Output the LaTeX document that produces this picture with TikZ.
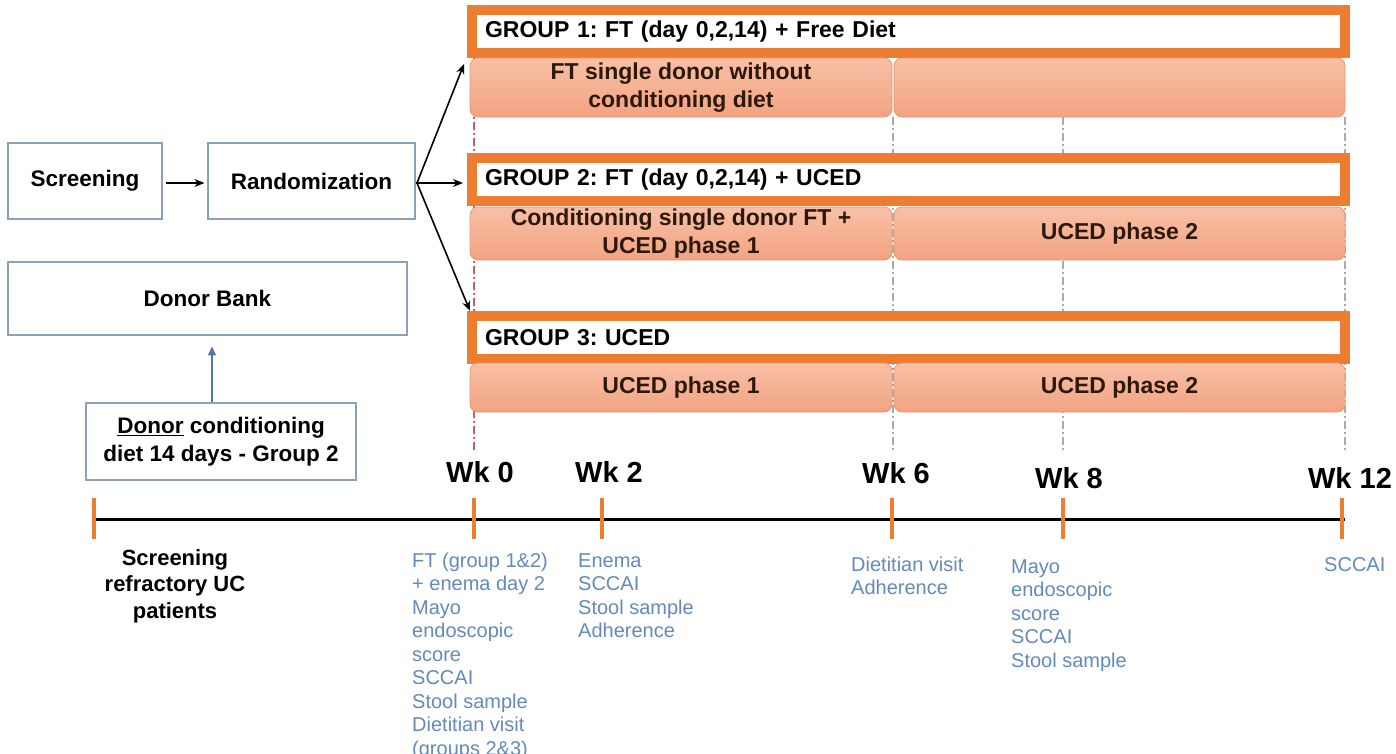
\documentclass[tikz,border=0pt]{standalone}
\usepackage{fontspec}
\setmainfont{Liberation Sans}
\usetikzlibrary{arrows.meta}
\definecolor{org}{RGB}{237,125,49}
\definecolor{salmonT}{RGB}{248,192,166}
\definecolor{salmonB}{RGB}{242,163,130}
\definecolor{salmonD}{RGB}{232,152,118}
\definecolor{bluetxt}{RGB}{100,138,185}
\definecolor{boxline}{RGB}{140,160,185}
\definecolor{steel}{RGB}{80,120,168}
\definecolor{darktxt}{RGB}{45,25,12}
\definecolor{pinkdash}{RGB}{205,90,110}
\definecolor{graydash}{RGB}{170,170,170}
\frenchspacing
\newcommand{\linesL}[1]{\begin{tabular}[t]{@{}l@{}}#1\end{tabular}}
\newcommand{\linesC}[1]{\begin{tabular}[t]{@{}c@{}}#1\end{tabular}}
\begin{document}
\begin{tikzpicture}[x=1pt,y=-1pt,
 lbox/.style={draw=boxline, line width=1.1pt, fill=white, font=\fontsize{22.5}{28}\selectfont\bfseries, align=center, inner sep=0pt},
 ghead/.style={draw=org, line width=10pt, fill=white, minimum height=43pt, text width=847pt, inner xsep=13pt, inner ysep=0pt, align=left, font=\fontsize{23}{27}\selectfont\bfseries},
 phase/.style={draw=salmonD, line width=0.8pt, rounded corners=8pt, top color=salmonT, bottom color=salmonB, font=\fontsize{23}{27.5}\selectfont\bfseries, text=darktxt, align=center, inner sep=0pt},
 arr/.style={-{Stealth[length=10pt,width=8pt]}, line width=1.6pt, black},
 tickmark/.style={draw=org, line width=4pt},
 wk/.style={font=\fontsize{29}{33}\selectfont\bfseries, anchor=base, inner sep=0pt},
 note/.style={font=\fontsize{20}{23.5}\selectfont, text=bluetxt, anchor=base west, inner sep=0pt},
 guide/.style={draw=graydash, line width=1.2pt, dash pattern=on 8pt off 3pt on 2pt off 3pt},
 guidepink/.style={draw=pinkdash, line width=1.2pt, dash pattern=on 8pt off 3pt on 2pt off 3pt},
]
\useasboundingbox[fill=white] (0,0) rectangle (1396,753);

% timeline coordinates
\coordinate (ts) at (94,519);
\coordinate (t0) at (474,519);
\coordinate (t2) at (602,519);
\coordinate (t6) at (892,519);
\coordinate (t8) at (1063,519);
\coordinate (t12) at (1342,519);
\coordinate (tend) at (1345,519);

% guide lines (behind boxes)
\draw[guidepink] (474,58) -- (474,452);
\draw[guide] (893,117) -- (893,453);
\draw[guide] (1063,117) -- (1063,453);
\draw[guide] (1345,117) -- (1345,453);

% left boxes
\node[lbox, minimum width=154pt, minimum height=76pt] (scr) at (85,181) {Screening};
\node[lbox, minimum width=207pt, minimum height=76pt] (rand) at (311.5,181) {Randomization};
\node[lbox, minimum width=399pt, minimum height=73pt] (bank) at (207.5,298.5) {Donor Bank};
\node[lbox, minimum width=270pt, minimum height=77pt] (cond) at (221,441.5) {\underline{Donor} conditioning\\diet 14 days - Group 2};

\draw[arr] ([xshift=3pt,yshift=-2pt]scr.east) -- ([xshift=-3pt,yshift=-2pt]rand.west);
\draw[-{Triangle[length=9pt,width=8pt]}, draw=steel, fill=steel, line width=1.2pt] ([xshift=-9pt]cond.north) -- ([xshift=-9pt,yshift=56pt]cond.north);

% group headers
\node[ghead] (g1) at (908.5,31.5) {GROUP 1: FT (day 0,2,14) + Free Diet};
\node[ghead] (g2) at (908.5,179.5) {GROUP 2: FT (day 0,2,14) + UCED};
\node[ghead] (g3) at (908.5,337.5) {GROUP 3: UCED};

% phase boxes
\node[phase, minimum width=422pt, minimum height=59pt] (p1a) at (681,87.5) {FT single donor without\\conditioning diet};
\node[phase, minimum width=451pt, minimum height=59pt] (p1b) at (1119.5,87.5) {};
\node[phase, minimum width=422pt, minimum height=53pt] (p2a) at (681,233.5) {Conditioning single donor FT +\\UCED phase 1};
\node[phase, minimum width=451pt, minimum height=53pt] (p2b) at (1119.5,233.5) {UCED phase 2};
\node[phase, minimum width=422pt, minimum height=49pt] (p3a) at (681,387.5) {UCED phase 1};
\node[phase, minimum width=451pt, minimum height=49pt] (p3b) at (1119.5,387.5) {UCED phase 2};

% randomization arrows
\coordinate (split) at (417,183);
\coordinate (e1) at (464,64);
\coordinate (e2) at (463,183);
\coordinate (e3) at (470,311);
\draw[line width=1.6pt] ([yshift=-2pt]rand.east) -- (split);
\draw[arr] (split) -- (e1);
\draw[arr] (split) -- (e2);
\draw[arr] (split) -- (e3);

% timeline
\draw[line width=3pt] (ts) -- (tend);
\foreach \t in {ts,t0,t2,t6,t8,t12}{
  \draw[tickmark] ([yshift=21pt]\t) -- ([yshift=-20pt]\t);
}

% week labels
\node[wk] (w0) at (480,482) {Wk 0};
\node[wk] (w2) at (609,482) {Wk 2};
\node[wk] (w6) at (896,483) {Wk 6};
\node[wk] (w8) at (1069,488) {Wk 8};
\node[wk] (w12) at (1350,488) {Wk 12};

% bottom texts
\node[font=\fontsize{22}{26.5}\selectfont\bfseries, anchor=base, inner sep=0pt] (scrtxt) at (175,565) {\linesC{Screening\\refractory UC\\patients}};
\node[note] (n0) at (412,567) {\linesL{FT (group 1\&2)\\+ enema day 2\\Mayo\\endoscopic\\score\\SCCAI\\Stool sample\\Dietitian visit\\(groups 2\&3)}};
\node[note] (n2) at (578,567) {\linesL{Enema\\SCCAI\\Stool sample\\Adherence}};
\node[note] (n6) at (851,571) {\linesL{Dietitian visit\\Adherence}};
\node[note] (n8) at (1011,573) {\linesL{Mayo\\endoscopic\\score\\SCCAI\\Stool sample}};
\node[note] (n12) at (1324,571) {SCCAI};
\end{tikzpicture}
\end{document}
